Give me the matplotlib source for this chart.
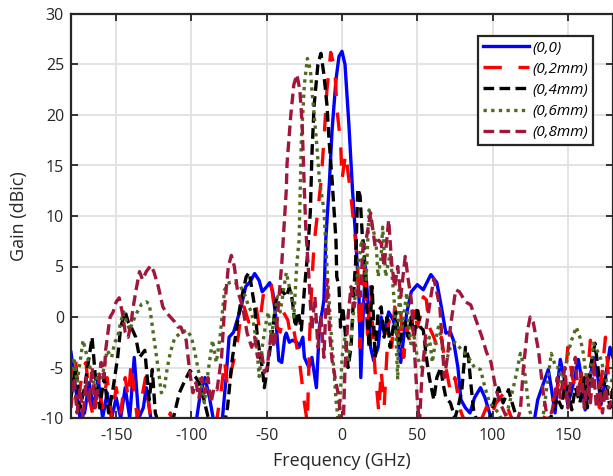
import numpy as np
import matplotlib
matplotlib.use("Agg")
import matplotlib.pyplot as plt

plt.rcParams['font.family'] = ['Open Sans', 'DejaVu Sans']
plt.rcParams['axes.unicode_minus'] = False

# (frequency GHz, gain dBic)
blue_pts = [(-180,-3.5),(-177,-7),(-174,-10),(-171,-9.5),(-168,-6.5),(-165,-9),(-162,-6),(-159,-10),(-156,-7.5),
            (-153,-10),(-150,-8),(-147,-10),(-144,-7),(-141,-10),(-138,-4),(-135,-10),(-132,-9),(-130,-7),(-127,-10),
            (-122,-11),(-110,-12),(-100,-12),(-97,-10.5),(-94,-7.5),(-91,-6),(-88,-8),(-85,-10.5),(-80,-11),(-77,-6),
            (-75,-2),(-72,-1.5),(-69,0),(-67,1),(-64,3),(-61,3.5),(-58,4.3),(-55,3.6),(-53,2.5),(-50,3),(-48,3.4),
            (-46,2.5),(-44,0),(-42,-4.3),(-40,-4.5),(-38,-2),(-37,-1.6),(-35,-2.5),(-33,-2.3),(-30,-2.5),(-28.5,-3),
            (-26,-2),(-25,-4),(-22,-5),(-20,-4),(-17,-7),(-15,-1),(-13,0.7),(-12,1.7),(-10.8,7.6),(-8.5,13),
            (-6.6,18.5),(-4,23.5),(-2,25.8),(0,26.3),(2,25),(4.6,19),(7,12.5),(9,8),(11.3,2),(12.5,-6),(14,0),
            (15.5,5),(17,2),(19,-3),(21,-4.3),(24,-3),(26,0),(28,-1.6),(31,0.5),(34,-0.3),(37,-2),(39,-4.5),(41,-2),
            (43,0.4),(46,2.5),(50,3.2),(54,2.7),(59,4.2),(63,3.4),(66,1),(69,-1.6),(72,-1.5),(74,-2.3),(77,-5),
            (79,-8.2),(82,-9),(85,-9.5),(88,-8),(92,-7),(95,-8),(97,-9),(100,-10.5),(105,-11),(110,-10.5),(113,-10),
            (116,-11),(120,-11),(125,-12),(128,-10),(130,-8.2),(134,-6.5),(137,-5.2),(139,-7),(141.5,-9.5),(143,-7),
            (145,-4.2),(147.5,-6),(150,-8.7),(153,-7),(157,-4.2),(159,-6),(161.5,-9.2),(164,-7),(167,-4),(170,-6),
            (172,-8.7),(175,-6),(178,-3),(180,-4)]

red_pts = [(-180,-7),(-177,-4),(-175,-8),(-172,-5),(-170,-4.5),(-168,-8),(-165,-10),(-162,-6.5),(-159,-9),(-156,-6),
           (-153,-10),(-150,-7),(-147,-9.5),(-144,-6),(-142,-8),(-140,-4.5),(-138,-7.5),(-136,-10),(-133,-8),
           (-130.5,-6),(-128,-9),(-126,-11),(-120,-12),(-116,-10.5),(-114,-9.5),(-112,-11),(-105,-12),(-102,-10),
           (-100,-9.5),(-98,-10.5),(-90,-12),(-84,-11),(-80,-7),(-78,-4.3),(-76,-7),(-73,-5),(-71.5,-4),(-69,-2),
           (-67,0.4),(-65,1),(-62,-0.5),(-60,-0.3),(-57,1),(-55,-1),(-52,2.5),(-50,3.4),(-47,3.2),(-45,1),(-43,-1),
           (-41,-1.5),(-39,0.5),(-36,-0.3),(-34,-2),(-32,-1.3),(-30,-3),(-28.5,-4),(-25,-8.5),(-23,-10.5),
           (-21.5,-2),(-20,3.6),(-18.5,7.3),(-16.5,10),(-14,13.3),(-12,17.5),(-10,22.5),(-7.5,26.2),(-5.5,25),
           (-4.5,23.8),(-3.3,20.5),(-0.9,17.2),(0,13.6),(2.4,16.2),(5.7,12.3),(8,8.9),(10,6),(11,2),(12,-3),
           (13,-0.3),(15,5),(17,-2),(19,3),(21,-3),(22,-5.4),(24.5,-9.5),(26,-5.2),(28,-8.9),(31,-0.3),(33,-3),
           (35,1),(37,-2),(39,0.5),(41,-4),(43,-1),(45,-2.5),(48,1),(50,-1),(52,0),(54,2),(56,1.7),(58,-1),(61,-2),
           (64,-3.3),(66,-2),(69,-5),(72,-7.4),(75,-6),(79,-9.4),(82,-10.5),(88,-11),(93,-10),(96,-8.9),(99,-10),
           (102,-8.6),(107,-7.6),(110,-9),(114,-10.5),(120,-11),(128,-11),(134,-10),(138,-9),(141,-8),(144,-6.5),
           (147,-8),(150,-3),(153,-6),(156,-7.5),(159,-6),(162,-8),(165,-2.3),(168,-6),(171,-9),(173,-5),(175,-2),
           (177,-6),(180,-8)]

black_pts = [(-180,-8),(-177,-5),(-174,-9),(-171,-7),(-169,-5),(-166,-2),(-164,-5.6),(-161,-9),(-158,-6),(-155,-9.5),
             (-152,-7),(-149,-4),(-147,-1),(-144,0.5),(-142,-0.5),(-140,-1),(-137,-2),(-134.5,-4),(-131,-3.3),
             (-128,-8.2),(-126,-5.2),(-124,-9.5),(-121,-11),(-115,-12),(-112,-10),(-108,-7.5),(-105,-6.5),
             (-101,-5.3),(-97,-6),(-95,-6.5),(-92,-8),(-88,-10.5),(-83,-12),(-78,-10.5),(-76,-8.9),(-73,-4.3),
             (-69.5,-0.6),(-67,1.7),(-63.6,4),(-61.6,4.4),(-58,1),(-56,-2.3),(-53,-5),(-51.6,-7),(-49.7,-5.2),
             (-47,-2.3),(-43.7,1.7),(-40,2.7),(-37,2),(-35,2.9),(-33,1.7),(-31,-1),(-29,0.5),(-27,-1.3),(-25,2.7),
             (-23,6),(-21,10.5),(-20,16),(-18.5,21),(-16,25),(-14,26.1),(-12,24),(-10,21),(-8.6,17.5),(-6.6,13.6),
             (-5,10),(-4,7.6),(-3.5,4),(-2,3),(-1,-1),(0.5,1),(2,-1.3),(4,-5),(6,-3),(8,3),(9,5.3),(10.5,12.7),
             (12,12),(13.5,8),(14.6,7),(16,2),(18,-3),(20,3),(22,-4),(24,0.5),(26,1),(28,-2),(30,0),(32,-3),(34,-1),
             (36,0.5),(38,-3),(40,-1),(42,-0.5),(44,-2),(46,0),(48,-2),(50,1),(52,-1),(54,-1.3),(56,-4),(58,-6),
             (61,-8.2),(63,-6),(65.6,-5),(67,-6.5),(69,-8),(72,-8.5),(75,-10),(77,-9),(79.6,-7.2),(82,-3),(84,-4),
             (85.5,-6.5),(87.4,-9.2),(90,-10.5),(95,-10.5),(98,-10),(100.7,-8.5),(104,-7),(107,-8.5),(110.6,-7.2),
             (113,-8.5),(115,-9.5),(118,-11),(125,-12),(135,-11),(140,-9.5),(143,-8),(146,-9),(148,-5.9),(150,-7),
             (152.6,-9.2),(155,-7),(158,-8.5),(161,-6),(163,-9),(165,-5),(168,-2.6),(170,-5),(172,-8.2),(175,-6),
             (178,-9),(180,-7)]

green_pts = [(-180,-6),(-178,-4),(-176,-6.5),(-174,-4.5),(-172,-2.3),(-170,-3.5),(-167,-5.2),(-164,-7),(-162,-5.5),
             (-160,-6.2),(-158,-5),(-156,-3.3),(-153,-4),(-151,-2.5),(-149,-2),(-147,-0.5),(-145,0.5),(-143,-0.5),
             (-141,-1.3),(-139,-0.5),(-136,0.5),(-133,1.3),(-130,1.5),(-128,1.3),(-125,-2),(-122,-5.2),(-120,-7.5),
             (-118,-7),(-116,-5),(-114,-3.5),(-111,-2),(-109,-1.8),(-106,-1.5),(-103,-1.3),(-100,-2),(-98,-3.3),
             (-95,-5.6),(-91.4,-8.5),(-89,-5.5),(-86,-2.3),(-83.5,-4.5),(-81,-2),(-78,2.7),(-75,3.4),(-72,3.5),
             (-70,3.3),(-68,3.2),(-66,2.6),(-64,2),(-62,1),(-60,0.5),(-57,-2.3),(-55,-5.9),(-53,-3),(-51,-1),
             (-49,0.5),(-47,-2),(-45,0),(-43,2),(-41,0.5),(-39,2.5),(-37,4.4),(-35,3),(-34,2.7),(-32,0),(-30,5.3),
             (-28.5,7.6),(-27,17.5),(-25,23),(-23,25.6),(-21,24.5),(-20,22.5),(-17,17.5),(-15,13.6),(-12,10.6),
             (-10,5),(-8.6,1.7),(-7,-2),(-5.5,-5),(-4,-8.2),(-2,-11),(0,-4),(2,-2),(4,-4.5),(6,-2),(8,1),(10,4),
             (13,7.6),(16,3.7),(18,10.6),(20,9),(22.5,7.6),(24,4),(26,6),(27,8.9),(29,4),(32,6.3),(35,1),(37,-6.2),
             (38,2.7),(40,-1),(43,2.4),(44,-0.3),(46,-3),(48,-2),(50,-4),(53,-5),(56,-3),(58,-2),(60,-4.5),
             (62,-2.5),(64,-1),(66,-2),(68,-5),(70,-4),(72,-3),(75,-2.5),(78,-3),(81,-3.5),(84,-4),(88,-5),(92,-5.2),
             (95,-7),(98,-8.5),(101,-9),(104,-9.5),(107,-10.5),(110.6,-8.9),(113,-7.5),(115,-6.2),(118.5,-3.6),
             (121,-5),(124,-8.9),(127,-10.5),(133,-10.5),(136,-7),(139,-3.6),(142,-5),(144,-5),(146,-6.5),
             (149,-4.5),(152,-2.5),(155.6,-1),(158,-2),(160,-3.3),(163.6,-7.5),(165.5,-5),(167,-2.6),(170,-3.5),
             (172,-4.2),(175,-6),(177,-7),(180,-6)]

maroon_pts = [(-180,-9),(-178,-6),(-176,-9.5),(-174,-7),(-172,-10),(-170,-6),(-168,-8.5),(-166,-5),(-164,-9),(-162,-7),
              (-160,-4.5),(-158,-6),(-157,-3.3),(-155,-1),(-154,0),(-152,0.5),(-150,1.5),(-148,1.9),(-146,0.5),
              (-144,-1.5),(-142,-2),(-140,-0.5),(-139,0.7),(-137,2.5),(-134.5,4.5),(-132.5,3.7),(-130,4.5),
              (-127,5.1),(-125,4.5),(-122,3),(-119,1),(-117,0.5),(-114,0),(-111,-0.5),(-109,-1),(-107,-1),
              (-103.5,-2.3),(-101,-5.6),(-99,-7.5),(-97,-6.5),(-95,-8),(-93,-6),(-91,-7.5),(-89,-6),(-87,-8.5),
              (-85,-7),(-83,-7.2),(-80,-4),(-78,1),(-75.5,5),(-73.5,6.1),(-71.5,5),(-69.5,2.7),(-66,1),(-63,-1.6),
              (-60,-3),(-58,-2),(-56,-4),(-53.6,-3.3),(-51.5,-5.5),(-49.7,-5),(-47,-1.5),(-45,-3),(-43,-0.3),
              (-42,1.7),(-40,5.3),(-37,12.6),(-36.5,15.2),(-34,20),(-32,23),(-30,24),(-28,22.5),(-26.5,19.2),
              (-25,12.6),(-24,8.6),(-22,4),(-20,-1.3),(-18,2),(-16,-3),(-14,0),(-12,-4),(-10,3.7),(-8,-2),
              (-6.6,-4.3),(-4,-6.5),(-2,-8),(-1,-10.5),(1,-10),(2,-5),(4,0),(6,3),(8,1),(11,3),(12,2),(14,7),
              (16,7.6),(19,10.3),(22,7),(24.5,7.6),(26,7.3),(28,5),(31,9.6),(33,5.3),(35,3),(37,5),(39,2),(42,6),
              (44,3.7),(46,1.7),(48,-3),(50,-8.2),(51.5,-10.5),(53,-6),(56,-1),(59,2),(61,3.8),(65,1),(68,-6),
              (70,-4),(72,-1),(75.5,2.7),(78,2.5),(82,1.5),(85.5,1.2),(89,-0.3),(93,-2),(96,-3.5),(99,-4.5),
              (102,-7),(105,-8.5),(108,-9.5),(111,-10.5),(115,-11),(118.5,-9.2),(120.5,-5),(123,-1.5),(125,0),
              (127,-0.5),(130.5,-3.3),(134,-7.9),(137,-10.5),(140,-9),(143,-6),(145,-8),(148,-5),(150,-9),(152,-6),
              (155,-4),(157,-8),(159,-5.5),(161,-9),(163,-6),(165,-8.5),(167,-5),(169,-9),(171,-6.5),(173,-9.5),
              (175,-7),(177,-9),(180,-8)]

labels = ['(0,0)', '(0,2mm)', '(0,4mm)', '(0,6mm)', '(0,8mm)']
xticks = [-150, -100, -50, 0, 50, 100, 150]
yticks = [-10, -5, 0, 5, 10, 15, 20, 25, 30]

fig = plt.figure(figsize=(6.13, 4.76), dpi=100)
ax = fig.add_axes([71/613, 58/476, 542/613, 404/476])

styles = [
    (blue_pts, dict(color='#0000ff', lw=2.4, ls='-')),
    (red_pts, dict(color='#ff0000', lw=2.4, dashes=(5.5, 5))),
    (black_pts, dict(color='black', lw=2.4, dashes=(3.2, 1.6))),
    (green_pts, dict(color='#4f6b22', lw=2.4, dashes=(1, 1.3), dash_capstyle='butt')),
    (maroon_pts, dict(color='#a0173c', lw=2.4, dashes=(3.2, 1.6))),
]
for (pts, st), lab in zip(styles, labels):
    f, g = np.array(pts).T
    ax.plot(f, g, label=lab, **st)

ax.set_xlim(-180, 180)
ax.set_ylim(-10, 30)
ax.set_xticks(xticks)
ax.set_yticks(yticks)
ax.grid(True, color='#e3e3e3', lw=1.4)
ax.set_axisbelow(True)
ax.tick_params(direction='in', length=5, width=1.3, top=True, right=True,
               labelsize=11.5, colors='#262626')
ax.tick_params(axis='x', pad=7)
ax.tick_params(axis='y', pad=5)
for sp in ax.spines.values():
    sp.set_linewidth(1.6)
    sp.set_color('#262626')

ax.set_xlabel('Frequency (GHz)', fontsize=13, color='#262626', labelpad=6)
ax.set_ylabel('Gain (dBic)', fontsize=13, color='#262626', labelpad=9)

leg = ax.legend(loc='upper right', bbox_to_anchor=(0.963, 0.9455), borderaxespad=0,
                prop=dict(style='italic', size=11), handlelength=3.0, handletextpad=0.25,
                labelspacing=0.4, borderpad=0.3, fancybox=False, framealpha=1)
leg.get_frame().set_edgecolor('#262626')
leg.get_frame().set_linewidth(1.6)

fig.savefig('out.png', dpi=100)
